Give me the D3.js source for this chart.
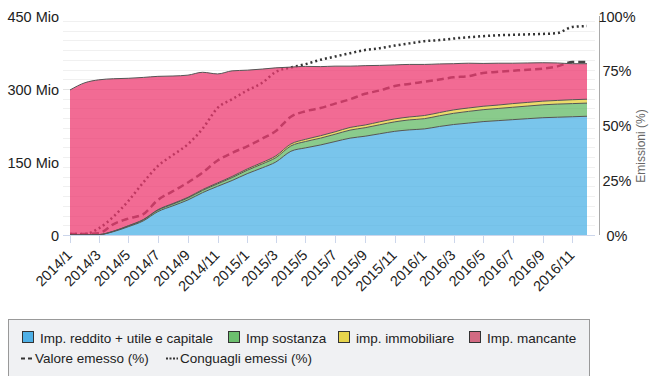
<!DOCTYPE html>
<html><head><meta charset="utf-8">
<script src="https://cdn.jsdelivr.net/npm/d3@7"></script>
<style>
body{margin:0;background:#fff}
svg{display:block}
text{font-family:"Liberation Sans",Arial,sans-serif}
</style>
</head><body>
<svg id="c" width="649" height="376"></svg>
<script>
const months = ["2014/1","2014/2","2014/3","2014/4","2014/5","2014/6","2014/7","2014/8","2014/9","2014/10","2014/11","2014/12",
  "2015/1","2015/2","2015/3","2015/4","2015/5","2015/6","2015/7","2015/8","2015/9","2015/10","2015/11","2015/12",
  "2016/1","2016/2","2016/3","2016/4","2016/5","2016/6","2016/7","2016/8","2016/9","2016/10","2016/11","2016/12"];
// Mio
const impReddito = [0,0,0.5,7,17,29,48,60,72,87,100,112,126,138,150,172,179,185,192,199,203,208,213,216,218,223,227,230,233,235,237,239,241,242,243,244];
const impSostanza = [0,0,0.2,0.8,1.5,2,3,3.5,4,4.5,5,6,7,8,9,11,13,14,15,16.5,17.5,18.5,19.5,20.5,21,22,23,24,24.5,25,25.5,26,26.5,27,27,27];
const impImmobiliare = [0,0,0.1,0.3,0.5,0.8,1,1.2,1.5,1.8,2,2.3,2.7,3,3.5,4,4.5,5,5,5.5,5.5,6,6,6,6.5,6.5,7,7,7,7,7.5,7.5,7.5,7.5,8,8];
const impMancante = [298,313,318,313,303,292,274,262,251,241,224,217,203,192,181,158,150,142,135,126,122,116,111,108,105,100,95,92,88,86,83,81,79,77,74,73];
// %
const valoreEmesso = [0.5,0.5,0.8,5,7.5,9.5,16,20,24,28.5,34,37.5,40.5,44,47.5,54,56.5,58,60,62,64.5,66,68,69,70,71,72,72.5,74,74.5,75,75.5,76,77,79,79];
const conguagliEmessi = [0.5,0.5,3,8.5,15.5,24,31.5,36.5,41.5,48.5,58,62,66,69.5,74.5,76.5,78,80,81.5,83,84.5,85.3,86.5,87.5,88.5,89,89.7,90.3,90.8,91.2,91.4,91.6,91.8,92.2,95,95.4];

const leftTicks = [0,150,300,450];
const leftTickLabels = ["0","150 Mio","300 Mio","450 Mio"];
const rightTicks = [0,25,50,75,100];
const rightTickLabels = ["0%","25%","50%","75%","100%"];
const xTickLabels = ["2014/1","2014/3","2014/5","2014/7","2014/9","2014/11","2015/1","2015/3","2015/5","2015/7","2015/9","2015/11","2016/1","2016/3","2016/5","2016/7","2016/9","2016/11"];
const areaNames = ["Imp. reddito + utile e capitale","Imp sostanza","imp. immobiliare","Imp. mancante"];
const lineNames = ["Valore emesso (%)","Conguagli emessi (%)"];

const areaColors = ["#4cb1e6","#63b965","#e5d038","#ee3a70"];
const legendColors = ["#4fb0e6","#6cbf6e","#e6d44c","#d26a82"];

const parse = s => { const [y,m] = s.split("/").map(Number); return new Date(y, m-1, 1); };
const dates = months.map(parse);

const svg = d3.select("#c");
const x = d3.scaleTime().domain([dates[0], dates[dates.length-1]]).range([70,587]);
const yL = d3.scaleLinear().domain([0,450]).range([235,16]);
const yR = d3.scaleLinear().domain([0,100]).range([235,16]);

// gridlines
const gridVals = yL.ticks(15);
svg.append("g").selectAll("line").data(gridVals).join("line")
  .attr("x1",63).attr("x2",595)
  .attr("y1",d=>Math.round(yL(d))+0.5).attr("y2",d=>Math.round(yL(d))+0.5)
  .attr("stroke",d=> d%150===0 ? "#e3e3e3" : "#f0f0f0").attr("stroke-width",1);

// lines (under areas)
const lineGen = d3.line().x((d,i)=>x(dates[i])).y(d=>yR(d)).curve(d3.curveMonotoneX);
svg.append("path").attr("d", lineGen(valoreEmesso)).attr("fill","none")
  .attr("stroke","#444").attr("stroke-width",2.5).attr("stroke-dasharray","7,4");
svg.append("path").attr("d", lineGen(conguagliEmessi)).attr("fill","none")
  .attr("stroke","#333").attr("stroke-width",2.5).attr("stroke-dasharray","2,3");

// stacked areas
const rows = months.map((m,i)=>({k0:impReddito[i],k1:impSostanza[i],k2:impImmobiliare[i],k3:impMancante[i]}));
const keys = ["k0","k1","k2","k3"];
const stacked = d3.stack().keys(keys)(rows);
const areaGen = d3.area().x((d,i)=>x(dates[i])).y0(d=>yL(d[0])).y1(d=>yL(d[1])).curve(d3.curveMonotoneX);
const topGen = d3.line().x((d,i)=>x(dates[i])).y(d=>yL(d[1])).curve(d3.curveMonotoneX);
svg.append("g").selectAll("path").data(stacked).join("path")
  .attr("d", areaGen).attr("fill",(d,i)=>areaColors[i]).attr("fill-opacity",0.75);
svg.append("g").selectAll("path").data(stacked).join("path")
  .attr("d", topGen).attr("fill","none").attr("stroke","#555").attr("stroke-width",1);

// x axis
const xTicks = xTickLabels.map(parse);
svg.append("line").attr("x1",63).attr("x2",595).attr("y1",235.5).attr("y2",235.5).attr("stroke","#ccd6eb");
svg.append("g").selectAll("line").data(xTicks).join("line")
  .attr("x1",d=>Math.round(x(d))+0.5).attr("x2",d=>Math.round(x(d))+0.5)
  .attr("y1",235).attr("y2",243).attr("stroke","#ccd6eb");
svg.append("g").selectAll("text").data(xTicks).join("text")
  .attr("transform",d=>`translate(${x(d)+3},256) rotate(-45)`)
  .attr("text-anchor","end").attr("font-size",14.5).attr("fill","#222")
  .text((d,i)=>xTickLabels[i]);

// left axis labels
svg.append("g").selectAll("text").data(leftTicks).join("text")
  .attr("x",59).attr("y",d=>yL(d)+5.5).attr("text-anchor","end")
  .attr("font-size",14.5).attr("fill","#222").text((d,i)=>leftTickLabels[i]);

// right axis
svg.append("line").attr("x1",599.5).attr("x2",599.5).attr("y1",16).attr("y2",235).attr("stroke","#aaa");
svg.append("g").selectAll("text").data(rightTicks).join("text")
  .attr("x",617).attr("y",d=>yR(d)+5.5).attr("text-anchor","middle")
  .attr("font-size",14.5).attr("fill","#222").text((d,i)=>rightTickLabels[i]);
svg.append("text").attr("transform","translate(645,146) rotate(-90)").attr("text-anchor","middle")
  .attr("font-size",12).attr("fill","#666").text("Emissioni (%)");

// legend
const lg = svg.append("g");
lg.append("rect").attr("x",8.5).attr("y",319.5).attr("width",581).attr("height",70)
  .attr("fill","#f0f1f3").attr("stroke","#999");
const sqX = [22,228,338,469];
areaNames.forEach((n,i)=>{
  lg.append("rect").attr("x",sqX[i]+0.5).attr("y",331.5).attr("width",11).attr("height",11)
    .attr("fill",legendColors[i]).attr("stroke","#333");
  lg.append("text").attr("x",sqX[i]+18).attr("y",342.5).attr("font-size",13.5).attr("fill","#222").text(n);
});
const lnX = [21,166];
const dash = ["4,3","2,1.5"];
lineNames.forEach((n,i)=>{
  lg.append("line").attr("x1",lnX[i]).attr("x2",lnX[i]+12).attr("y1",358.5).attr("y2",358.5)
    .attr("stroke","#333").attr("stroke-width",2).attr("stroke-dasharray",dash[i]);
  lg.append("text").attr("x",lnX[i]+14).attr("y",363).attr("font-size",13.5).attr("fill","#222").text(n);
});
</script>
</body></html>
